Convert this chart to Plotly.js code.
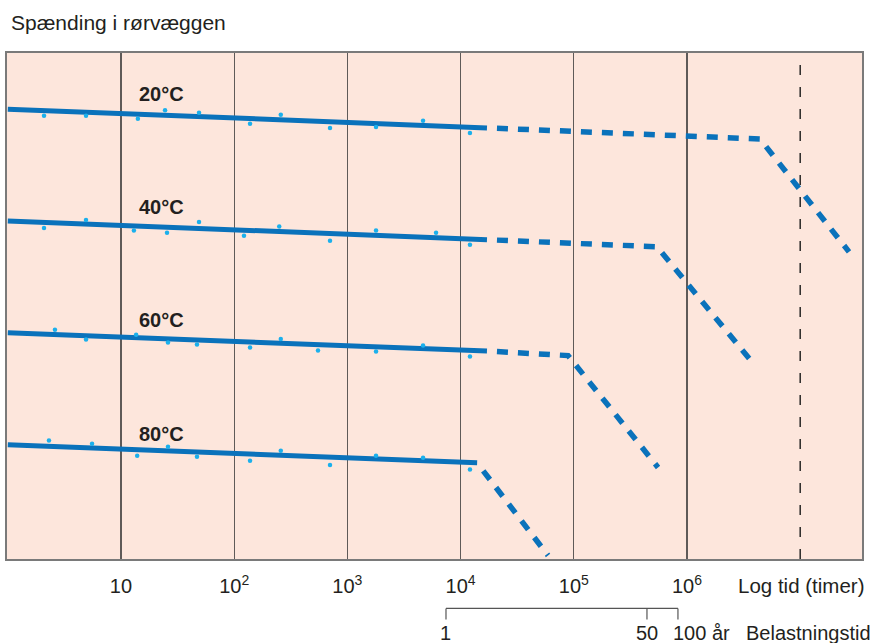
<!DOCTYPE html>
<html>
<head>
<meta charset="utf-8">
<script src="https://cdn.plot.ly/plotly-3.0.1.min.js"></script>
<style>
html,body{margin:0;padding:0;background:#fff;}
#chart{width:881px;height:643px;}
</style>
</head>
<body>
<div id="chart"></div>
<script>
// ---- data (time in hours, stress in arbitrary units) ----
const temps = ['20°C', '40°C', '60°C', '80°C'];

// measured points
const pts20x = [2.09, 4.91, 14.1, 24.5, 48.9, 138, 258, 702, 1790, 4660, 12100];
const pts20y = [87.6, 87.6, 87.0, 88.7, 88.2, 86.0, 87.8, 85.2, 85.4, 86.6, 84.2];
const pts40x = [2.09, 4.91, 13.0, 25.5, 48.9, 122, 250, 702, 1790, 6070, 12100];
const pts40y = [65.4, 67.0, 64.9, 64.5, 66.6, 63.9, 65.7, 62.9, 64.9, 64.5, 62.1];
const pts60x = [2.61, 4.91, 13.6, 26.0, 46.9, 138, 258, 550, 1790, 4660, 12100];
const pts60y = [45.3, 43.4, 44.3, 42.8, 42.4, 41.8, 43.5, 41.2, 41.0, 42.2, 40.0];
const pts80x = [2.31, 5.55, 13.9, 26.0, 46.9, 138, 258, 702, 1790, 4660, 12100];
const pts80y = [23.4, 22.8, 20.4, 22.2, 20.2, 19.4, 21.4, 18.6, 20.4, 20.0, 17.7];

// fitted lines: solid (measured range)
const solid20x = [1, 17100], solid20y = [88.9, 85.2];
const solid40x = [1, 17100], solid40y = [66.8, 63.1];
const solid60x = [1, 17100], solid60y = [44.7, 41.1];
const solid80x = [1, 14000], solid80y = [22.6, 19.0];
// extrapolated (dashed) with knee
const dash20x = [17100, 4.42e6, 2.70e7], dash20y = [85.2, 83.0, 60.7];
const dash40x = [17100, 5.43e5, 3.61e6], dash40y = [63.1, 61.7, 39.4];
const dash60x = [17100, 8.9e4, 5.55e5], dash60y = [41.1, 40.2, 18.1];
const dash80x = [14000, 5.92e4],        dash80y = [19.0, 0.7];

// label anchor points for temperature labels
const labelX = [23, 23, 23, 23];
const labelY = [91.9, 69.6, 47.3, 24.8];

// axis ticks
const tickVals = [10, 100, 1000, 10000, 100000, 1000000];
const tickText = ['10', '10<sup>2</sup>', '10<sup>3</sup>', '10<sup>4</sup>', '10<sup>5</sup>', '10<sup>6</sup>'];
const refLineHours = 1e7;

// service-life bracket (years), positions in hours
const yearLabels = ['1', '50', '100 år'];
const yearHours = [7430, 443000, 832000];

// ---- styling ----
const lineBlue = '#0a72bb';
const dotBlue = '#1bb0ec';
const FONT = 'Liberation Sans, Arial, Helvetica, sans-serif';
const txt = '#231f20';

const traces = [];
const ptsX = [pts20x, pts40x, pts60x, pts80x];
const ptsY = [pts20y, pts40y, pts60y, pts80y];
const solX = [solid20x, solid40x, solid60x, solid80x];
const solY = [solid20y, solid40y, solid60y, solid80y];
const dX = [dash20x, dash40x, dash60x, dash80x];
const dY = [dash20y, dash40y, dash60y, dash80y];

for (let i = 0; i < 4; i++) {
  traces.push({x: solX[i], y: solY[i], mode: 'lines', type: 'scatter',
    line: {color: lineBlue, width: 5}, hoverinfo: 'skip', showlegend: false});
  traces.push({x: dX[i], y: dY[i], mode: 'lines', type: 'scatter',
    line: {color: lineBlue, width: 5.5, dash: '0px,10px,11px,0px'}, hoverinfo: 'skip', showlegend: false});
  traces.push({x: ptsX[i], y: ptsY[i], mode: 'markers', type: 'scatter',
    marker: {color: dotBlue, size: 4.5}, name: temps[i], showlegend: false});
}

const plotTop = 53, plotBot = 559.5, plotH = plotBot - plotTop;
const py = p => (plotBot - p) / plotH;
const px = p => (p - 7) / 855;

const annotations = [];
for (let i = 0; i < 4; i++) {
  annotations.push({x: Math.log10(labelX[i]), y: labelY[i], xref: 'x', yref: 'y',
    text: '<b>' + temps[i] + '</b>', showarrow: false, xanchor: 'center', yanchor: 'middle',
    font: {family: FONT, size: 20, color: txt}});
}
annotations.push({x: px(9), y: py(22), xref: 'paper', yref: 'paper', xanchor: 'left', yanchor: 'middle',
  text: 'Spænding i rørvæggen', showarrow: false, font: {family: FONT, size: 21, color: txt}});

annotations.push({x: px(736), y: py(586), xref: 'paper', yref: 'paper', xanchor: 'left', yanchor: 'middle',
  text: 'Log tid (timer)', showarrow: false, font: {family: FONT, size: 20.5, color: txt}});

// bracket labels
annotations.push({x: Math.log10(yearHours[0]), y: py(634), xref: 'x', yref: 'paper', xanchor: 'center', yanchor: 'middle',
  text: yearLabels[0], showarrow: false, font: {family: FONT, size: 20, color: txt}});
annotations.push({x: Math.log10(yearHours[1]), y: py(634), xref: 'x', yref: 'paper', xanchor: 'center', yanchor: 'middle',
  text: yearLabels[1], showarrow: false, font: {family: FONT, size: 20, color: txt}});
annotations.push({x: Math.log10(yearHours[2]) - 7 / 113.2, y: py(634), xref: 'x', yref: 'paper', xanchor: 'left', yanchor: 'middle',
  text: yearLabels[2], showarrow: false, font: {family: FONT, size: 20, color: txt}});
annotations.push({x: px(744), y: py(634), xref: 'paper', yref: 'paper', xanchor: 'left', yanchor: 'middle',
  text: 'Belastningstid', showarrow: false, font: {family: FONT, size: 20, color: txt}});

// shapes on a log axis take data values here
const shapes = [
  {type: 'line', xref: 'x', yref: 'paper', x0: refLineHours, x1: refLineHours, y0: 0, y1: 1,
   line: {color: '#1a1a1a', width: 1.4, dash: '10px,12px'}},
  {type: 'line', xref: 'x', yref: 'paper', x0: yearHours[0], x1: yearHours[2], y0: py(609), y1: py(609),
   line: {color: '#555', width: 1.2}}
];
yearHours.forEach(h => shapes.push({type: 'line', xref: 'x', yref: 'paper', x0: h, x1: h,
  y0: py(609), y1: py(620), line: {color: '#555', width: 1.2}}));

const layout = {
  width: 881, height: 643,
  margin: {l: 7, r: 19, t: 53, b: 83.5, pad: 0},
  paper_bgcolor: '#ffffff',
  plot_bgcolor: '#fde6dc',
  showlegend: false,
  xaxis: {
    type: 'log', range: [-0.007, 7.546],
    tickvals: tickVals, ticktext: tickText,
    ticks: '', ticklabelstandoff: 8,
    tickfont: {family: FONT, size: 20, color: txt},
    showgrid: true, gridcolor: '#5f5a58', gridwidth: 1.2,
    showline: true, mirror: true, linecolor: '#7a7a7a', linewidth: 2,
    zeroline: false, fixedrange: true
  },
  yaxis: {
    range: [0, 100], showticklabels: false, ticks: '', showgrid: false, zeroline: false,
    showline: true, mirror: true, linecolor: '#7a7a7a', linewidth: 2, fixedrange: true
  },
  annotations: annotations,
  shapes: shapes
};

Plotly.newPlot('chart', traces, layout, {displayModeBar: false, staticPlot: true});
</script>
</body>
</html>
